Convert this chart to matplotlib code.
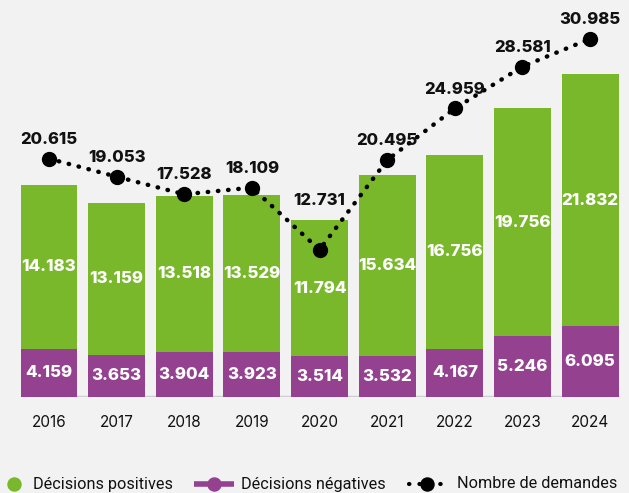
import matplotlib
matplotlib.use("Agg")
import matplotlib.pyplot as plt
from matplotlib.lines import Line2D

years = ["2016", "2017", "2018", "2019", "2020", "2021", "2022", "2023", "2024"]
positives = [14183, 13159, 13518, 13529, 11794, 15634, 16756, 19756, 21832]
negatives = [4159, 3653, 3904, 3923, 3514, 3532, 4167, 5246, 6095]
demandes = [20615, 19053, 17528, 18109, 12731, 20495, 24959, 28581, 30985]
legend_labels = ["Décisions positives", "Décisions négatives", "Nombre de demandes"]

GREEN = "#7ab82b"
PURPLE = "#94418f"
BG = "#f2f2f2"
DOTS = (0, (0.1, 2.2))

plt.rcParams['font.family'] = ['Inter', 'DejaVu Sans']

def fmt(v):
    return f"{v:,}".replace(",", ".")

W, H = 629, 493
fig = plt.figure(figsize=(W / 100, H / 100), dpi=100, facecolor=BG)
ax = fig.add_axes([0.024, 0.195, 0.968, 0.797])
ax.set_facecolor(BG)

x = list(range(len(years)))
w = 0.84
ax.bar(x, negatives, width=w, color=PURPLE, zorder=2)
ax.bar(x, positives, width=w, bottom=negatives, color=GREEN, zorder=2)

for i in x:
    ax.text(i, negatives[i] / 2, fmt(negatives[i]), ha='center', va='center',
            color='white', fontsize=12.2, fontweight='heavy', zorder=3)
    ax.text(i, negatives[i] + positives[i] / 2, fmt(positives[i]), ha='center', va='center',
            color='white', fontsize=12.2, fontweight='heavy', zorder=3)

ax.plot(x, demandes, color='black', linestyle=DOTS, linewidth=3.2,
        dash_capstyle='round', marker='o', markersize=10, zorder=4)
for i in x:
    anchor = max(demandes[i], positives[i] + negatives[i])
    ax.annotate(fmt(demandes[i]), (i, anchor), xytext=(0, 8.5), textcoords='offset points',
                ha='center', va='bottom', fontsize=12, fontweight='heavy', color='#111111', zorder=5)

ax.plot([-0.42, 8.42], [0, 0], color='#cfcfcf', linewidth=2.5, zorder=1, solid_capstyle='butt')

ax.set_xlim(-0.5, 8.5)
ax.set_ylim(0, 34000)
ax.set_xticks(x)
ax.set_xticklabels(years, fontsize=11, color='#111111')
ax.tick_params(axis='x', length=0, pad=13)
ax.set_yticks([])
for s in ax.spines.values():
    s.set_visible(False)

# manual legend in figure pixel coordinates
def fx(px):
    return px / W

ly = 1 - 484 / H
lg_font = dict(fontsize=11.7, va='center', ha='left', color='#111111', family=['Roboto', 'DejaVu Sans'])
fig.add_artist(Line2D([fx(14)], [ly], marker='o', markersize=9.4, color=GREEN, linestyle='none'))
fig.text(fx(33), ly, legend_labels[0], **lg_font)
fig.add_artist(Line2D([fx(194), fx(234)], [ly, ly], color=PURPLE, linewidth=4, solid_capstyle='butt'))
fig.add_artist(Line2D([fx(214)], [ly], marker='o', markersize=9.4, color=PURPLE, linestyle='none'))
fig.text(fx(241), ly, legend_labels[1], **lg_font)
fig.add_artist(Line2D([fx(409), fx(445)], [ly, ly], color='black', linewidth=3, linestyle=(0, (0.1, 2.4)),
                      dash_capstyle='round'))
fig.add_artist(Line2D([fx(427)], [ly], marker='o', markersize=9.4, color='black', linestyle='none'))
fig.text(fx(457), ly, legend_labels[2], **lg_font)

fig.savefig("out.png", dpi=100, facecolor=BG)
